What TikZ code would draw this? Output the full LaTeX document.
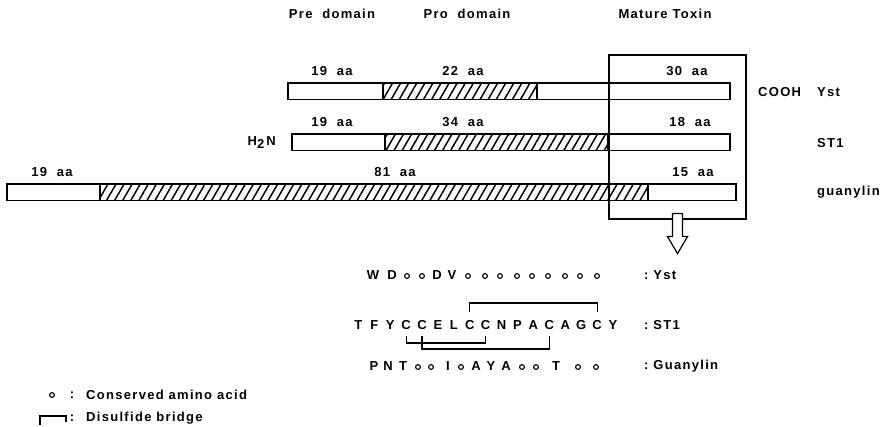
\documentclass[tikz,border=0pt]{standalone}
\usepackage{fontspec}
\setmainfont{Liberation Sans}[LetterSpace=10]
\usepackage{tikz}
\usetikzlibrary{patterns.meta}

\tikzset{
  lab/.style={font=\fontsize{13}{15}\selectfont\bfseries, inner sep=0pt},
  aa/.style={lab, text height=9.3pt, text depth=0pt},
  cons/.style={circle, draw, line width=1.1pt, minimum size=4.8pt, inner sep=0pt},
  segbar/.style={draw, fill=white, line width=1.2pt},
  hatch/.style={pattern={Lines[angle=60, distance=7pt, line width=1.5pt]}},
  bridge/.style={line width=1.1pt},
}

\begin{document}
\begin{tikzpicture}[x=1pt, y=-1pt]
  \useasboundingbox (0,0) rectangle (884,427);

  % domain headings
  \node[lab] (predom) at (332,14) {Pre\ \ domain};
  \node[lab] (prodom) at (467,14) {Pro\ \ domain};
  \node[lab] (matdom) at (665,14) {Mature\ Toxin};

  % precursors: top, left, hatch start, hatch end, right
  \foreach \y/\a/\b/\c/\d in {83/288/383/537/730, 134/292/385/608/730,
                              184/7/100/648/736} {
    \draw[segbar] (\a,\y) rectangle (\d,\y+16.5);
    \draw[segbar, hatch] (\b,\y) rectangle (\c,\y+16.5);
  }

  % segment lengths
  \foreach \x/\y/\n [count=\k] in {332/71/19, 463/71/22, 687/71/30,
                                   332/122/19, 463/122/34, 690/122/18,
                                   52/172/19, 395/172/81, 693/172/15}
    \node[lab] (len\k) at (\x,\y) {\n\ \ aa};

  % names and termini
  \node[lab, anchor=west] (cooh) at (758,92) {COOH};
  \node[lab, anchor=west] (yst) at (817,92) {Yst};
  \node[lab, anchor=west] (st) at (817,143) {ST1};
  \node[lab, anchor=west] (guan) at (817,192) {guanylin};
  \node[lab, anchor=east] (hn) at (276,143) {H\raisebox{-3pt}{2}\,N};

  % mature toxin box and arrow
  \node[draw, line width=1.2pt, minimum width=137pt, minimum height=164pt]
    (mature) at (677.5,137) {};
  \draw[line width=1.2pt, fill=white] ([shift={(-5,-6)}]mature.south)
    -- ++(0,23) -- ++(-5,0) -- ++(10,17) -- ++(10,-17) -- ++(-5,0)
    -- ++(0,-23) -- cycle;

  % Yst sequence
  \foreach \x/\c [count=\k] in {373/W, 392/D, 437/D, 452/V}
    \node[aa] (ys\k) at (\x,275) {\c};
  \foreach \x [count=\k] in {407,422,468,485,500,517,532,548,565,580,597}
    \node[cons] (yc\k) at (\x,276) {};
  \node[lab, anchor=west] (ysname) at (644,275) {:\ Yst};

  % ST1 sequence
  \foreach \c [count=\i from 0] in {T,F,Y,C,C,E,L,C,C,N,P,A,C,A,G,C,Y}
    \node[aa] (st\i) at ({358.3+15.92*\i},325) {\c};
  \node[lab, anchor=west] (stname) at (644,325) {:\ ST1};

  % disulfide bridges
  \coordinate (topbr) at (0,303);
  \coordinate (lowbr) at (0,343);
  \coordinate (lowbrb) at (0,349);
  \draw[bridge] ([yshift=8pt]st7.north) |- (st15.north |- topbr)
    -- ([yshift=8pt]st15.north);
  \draw[bridge] ([yshift=-6pt]st3.south) |- (st8.south |- lowbr)
    -- ([yshift=-6pt]st8.south);
  \draw[bridge] ([yshift=-6pt]st4.south) |- (st12.south |- lowbrb)
    -- ([yshift=-6pt]st12.south);

  % guanylin sequence
  \foreach \x/\c [count=\k] in {374/P, 388/N, 403/T, 448/I, 476/A, 491/Y,
                                506/A, 556/T}
    \node[aa] (gu\k) at (\x,366) {\c};
  \foreach \x [count=\k] in {418,431,461,522,536,578,596}
    \node[cons] (gc\k) at (\x,367) {};
  \node[lab, anchor=west] (guname) at (644,366) {:\ Guanylin};

  % legend
  \node[cons] (legcons) at (52,395) {};
  \node[lab] (legcol) at (72,395) {:};
  \node[lab, anchor=west] (legtxt) at (86,395) {Conserved amino acid};
  \coordinate (legbr) at (40,425);
  \draw[bridge] (legbr) -- ++(0,-9) -- ++(26,0) -- ++(0,6);
  \node[lab] (legcolb) at (72,418) {:};
  \node[lab, anchor=west] (legtxtb) at (86,418) {Disulfide bridge};

\end{tikzpicture}
\end{document}
